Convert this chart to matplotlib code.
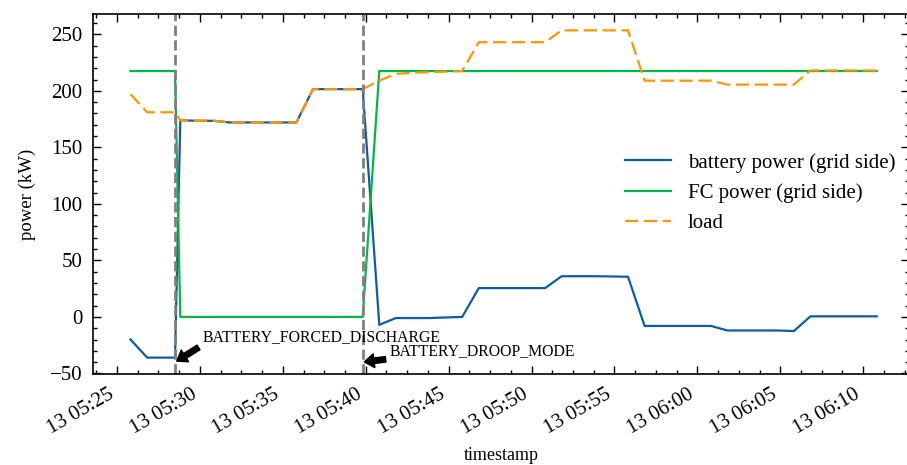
import matplotlib
matplotlib.use("Agg")
import matplotlib.pyplot as plt
import matplotlib.dates as mdates
from matplotlib.ticker import AutoMinorLocator, MultipleLocator
import pandas as pd

# ---- data ----
day = "2021-01-13 "
times = ["05:25:49", "05:26:49", "05:27:49", "05:28:30", "05:28:49", "05:29:49",
         "05:30:49", "05:31:49", "05:32:49", "05:33:49", "05:34:49", "05:35:49",
         "05:36:49", "05:37:49", "05:38:49", "05:39:49", "05:40:49", "05:41:49",
         "05:42:49", "05:43:49", "05:44:49", "05:45:49", "05:46:49", "05:47:49",
         "05:48:49", "05:49:49", "05:50:49", "05:51:49", "05:52:49", "05:53:49",
         "05:54:49", "05:55:49", "05:56:49", "05:57:49", "05:58:49", "05:59:49",
         "06:00:49", "06:01:49", "06:02:49", "06:03:49", "06:04:49", "06:05:49",
         "06:06:49", "06:07:49", "06:08:49", "06:09:49", "06:10:49"]

battery = [-20, -36, -36, -36, 174, 173.5, 173.5, 172, 172, 172, 172, 172,
           201.5, 201.5, 201.5, 201.5, -7, -1, -1, -1, -0.5, 0,
           25.5, 25.5, 25.5, 25.5, 25.5, 36, 36, 36, 35.8, 35.5,
           -8, -8, -8, -8, -8, -12, -12, -12, -12, -12.5,
           0.5, 0.5, 0.5, 0.5, 0.5]

fc = [217.5, 217.5, 217.5, 217.5, 0, 0, 0, 0, 0, 0, 0, 0,
      0, 0, 0, 0, 217.5, 217.5, 217.5, 217.5, 217.5, 217.5,
      217.5, 217.5, 217.5, 217.5, 217.5, 217.5, 217.5, 217.5, 217.5, 217.5,
      217.5, 217.5, 217.5, 217.5, 217.5, 217.5, 217.5, 217.5, 217.5, 217.5,
      217.5, 217.5, 217.5, 217.5, 217.5]

load = [197, 181, 181, 181, 174, 173.5, 173.5, 172, 172, 172, 172, 172,
        201.5, 201.5, 201.5, 201.5, 209, 215, 216, 216.5, 217, 217.5,
        243, 243, 243, 243, 243, 253.5, 253.5, 253.5, 253.5, 253.5,
        209, 209, 209, 209, 209, 205.5, 205.5, 205.5, 205.5, 205.5,
        218, 218, 218, 218, 218]

events = ["05:28:30", "05:39:49"]
event_labels = ["BATTERY_FORCED_DISCHARGE", "BATTERY_DROOP_MODE"]

t = pd.to_datetime([day + s for s in times])
ev = pd.to_datetime([day + s for s in events])

# ---- style ----
plt.rcParams.update({
    "font.family": ["Liberation Serif", "DejaVu Serif"],
    "font.size": 15,
    "xtick.labelsize": 15,
    "ytick.labelsize": 15,
    "axes.labelsize": 13.5,
    "legend.fontsize": 15,
    "xtick.direction": "in",
    "ytick.direction": "in",
    "xtick.top": True,
    "ytick.right": True,
    "xtick.major.size": 5.5,
    "ytick.major.size": 5.5,
    "xtick.minor.size": 3,
    "ytick.minor.size": 3,
    "xtick.major.width": 1.0,
    "ytick.major.width": 1.0,
    "xtick.minor.width": 1.0,
    "ytick.minor.width": 1.0,
    "xtick.major.pad": 8,
    "ytick.major.pad": 7.5,
    "axes.linewidth": 1.2,
})

fig = plt.figure(figsize=(9.07, 4.65), dpi=100)
ax = fig.add_axes([0.1025, 0.1957, 0.8995, 0.7743])

ax.plot(t, battery, color="#0C5DA5", lw=1.6, label="battery power (grid side)")
ax.plot(t, fc, color="#00B945", lw=1.6, label="FC power (grid side)")
ax.plot(t, load, color="#FF9500", lw=1.6, ls=(0, (6, 2.5)), label="load")

for e in ev:
    ax.axvline(e, color="gray", ls="--", lw=2)

ax.set_xlim(pd.Timestamp(day + "05:23:33"), pd.Timestamp(day + "06:12:45"))
ax.set_ylim(-50.5, 268)

ax.xaxis.set_major_locator(mdates.MinuteLocator(byminute=range(0, 60, 5)))
ax.xaxis.set_major_formatter(mdates.DateFormatter("%d %H:%M"))
ax.xaxis.set_minor_locator(AutoMinorLocator(4))
ax.yaxis.set_major_locator(MultipleLocator(50))
ax.yaxis.set_minor_locator(AutoMinorLocator(5))
for lab in ax.get_xticklabels():
    lab.set_rotation(30)
    lab.set_ha("right")

ax.set_xlabel("timestamp", fontsize=13, labelpad=6)
ax.set_ylabel("power (kW)", labelpad=10)

arrow = dict(facecolor="black", edgecolor="black", width=4, headwidth=10, headlength=7, shrink=0.06)
ax.annotate(event_labels[0], xy=(ev[0], -40), xytext=(pd.Timestamp(day + "05:30:11"), -21),
            fontsize=11.3, arrowprops=arrow)
ax.annotate(event_labels[1], xy=(ev[1], -40), xytext=(pd.Timestamp(day + "05:41:28"), -33.5),
            fontsize=11.3, arrowprops=arrow)

ax.legend(loc="center left", bbox_to_anchor=(0.642, 0.503), frameon=False,
          borderaxespad=0, handlelength=2.2, handletextpad=0.8, labelspacing=0.5)

fig.savefig("out.png", dpi=100)
